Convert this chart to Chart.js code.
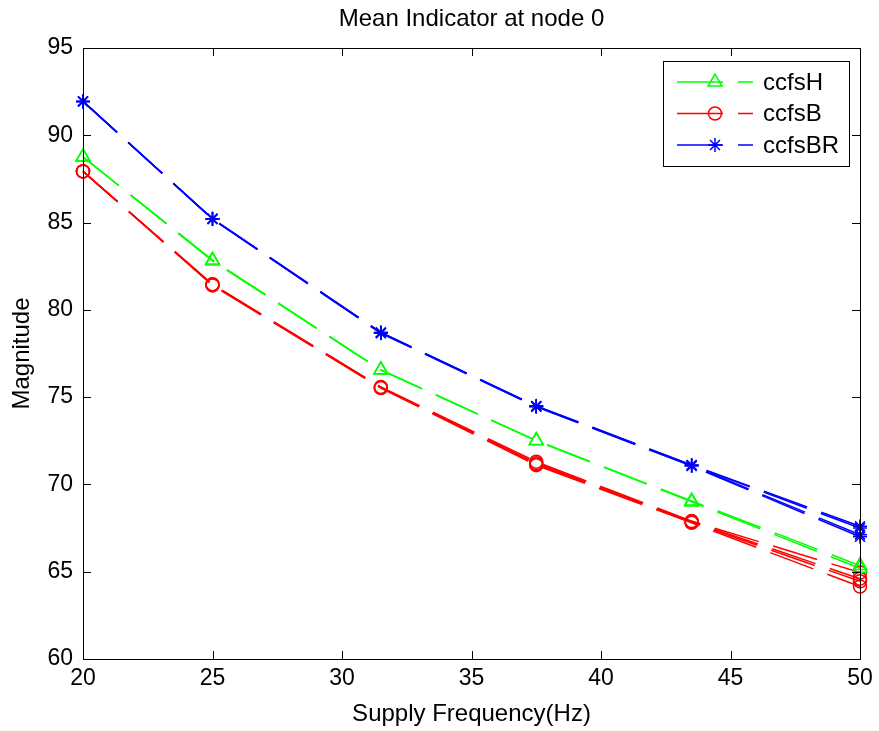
<!DOCTYPE html>
<html>
<head>
<meta charset="utf-8">
<script src="https://cdn.jsdelivr.net/npm/chart.js@4.4.1/dist/chart.umd.min.js"></script>
<style>
  html, body { margin: 0; padding: 0; background: #fff; }
  #wrap { width: 879px; height: 731px; }
</style>
</head>
<body>
<div id="wrap"><canvas id="meanChart" width="879" height="731"></canvas></div>
<script>
const frequencies = [20, 25, 31.5, 37.5, 43.5, 50];
const xTicks = [20, 25, 30, 35, 40, 45, 50];
const yTicks = [60, 65, 70, 75, 80, 85, 90, 95];

// ccfsH runs (green)
const ccfsH1 = [88.76, 82.85, 76.57, 72.52, 69.05, 65.35];
const ccfsH2 = [88.76, 82.8, 76.55, 72.5, 69.0, 65.2];

// ccfsB runs (red)
const ccfsB1 = [87.93, 81.47, 75.58, 71.3, 67.9, 64.95];
const ccfsB2 = [87.93, 81.45, 75.55, 71.22, 67.88, 64.6];
const ccfsB3 = [87.93, 81.42, 75.55, 71.15, 67.83, 64.45];
const ccfsB4 = [87.93, 81.4, 75.52, 71.1, 67.8, 64.15];

// ccfsBR runs (blue)
const ccfsBR1 = [91.94, 85.22, 78.71, 74.5, 71.12, 67.6];
const ccfsBR2 = [91.94, 85.22, 78.7, 74.48, 71.1, 67.5];
const ccfsBR3 = [91.94, 85.2, 78.68, 74.47, 71.08, 67.12];
const ccfsBR4 = [91.94, 85.2, 78.66, 74.45, 71.05, 67.0];

const chartTitle = "Mean Indicator at node 0";
const fontFace = "'Liberation Sans', Arial, Helvetica, sans-serif";
const dashPattern = [46, 15];

function series(label, values, color, shape, radius, inLegend) {
  return {
    label: label,
    data: values.map((v, i) => ({ x: frequencies[i], y: v })),
    borderColor: color,
    borderWidth: 1.5,
    borderDash: dashPattern,
    pointStyle: shape,
    pointRadius: radius,
    pointBorderColor: color,
    pointBackgroundColor: "rgba(0,0,0,0)",
    pointBorderWidth: 1.5,
    tension: 0,
    fill: false,
    clip: false,
    inLegend: inLegend,
  };
}

// box around the plot with inward tick marks on all four sides,
// plus the title centred over the plot area
const axesBox = {
  id: "axesBox",
  afterDatasetsDraw(chart) {
    const { ctx, chartArea: a, scales } = chart;
    const len = 8;
    ctx.save();
    ctx.strokeStyle = "#000";
    ctx.lineWidth = 1;
    ctx.beginPath();
    xTicks.forEach((v) => {
      const px = Math.round(scales.x.getPixelForValue(v)) + 0.5;
      ctx.moveTo(px, a.bottom);
      ctx.lineTo(px, a.bottom - len);
      ctx.moveTo(px, a.top);
      ctx.lineTo(px, a.top + len);
    });
    yTicks.forEach((v) => {
      const py = Math.round(scales.y.getPixelForValue(v)) + 0.5;
      ctx.moveTo(a.left, py);
      ctx.lineTo(a.left + len, py);
      ctx.moveTo(a.right, py);
      ctx.lineTo(a.right - len, py);
    });
    ctx.stroke();
    ctx.strokeRect(Math.round(a.left) + 0.5, Math.round(a.top) + 0.5,
      Math.round(a.right - a.left), Math.round(a.bottom - a.top));

    ctx.fillStyle = "#000";
    ctx.font = "24px " + fontFace;
    ctx.textAlign = "center";
    ctx.textBaseline = "middle";
    ctx.fillText(chartTitle, (a.left + a.right) / 2, 19);
    ctx.restore();
  },
};

// legend box in the upper right corner: dashed sample line with marker, then the label
const boxLegend = {
  id: "boxLegend",
  afterDraw(chart) {
    const { ctx } = chart;
    const items = chart.data.datasets.filter((d) => d.inLegend);
    const x0 = 663, y0 = 61, w = 186, h = 105;
    ctx.save();
    ctx.fillStyle = "#fff";
    ctx.fillRect(x0, y0, w, h);
    ctx.strokeStyle = "#000";
    ctx.lineWidth = 1;
    ctx.strokeRect(x0 + 0.5, y0 + 0.5, w, h);
    items.forEach((d, i) => {
      const y = 82 + i * 31.5;
      ctx.strokeStyle = d.borderColor;
      ctx.lineWidth = d.borderWidth;
      ctx.setLineDash(d.borderDash);
      ctx.beginPath();
      ctx.moveTo(677, y);
      ctx.lineTo(753, y);
      ctx.stroke();
      ctx.setLineDash([]);
      ctx.lineWidth = d.pointBorderWidth;
      ctx.fillStyle = d.pointBackgroundColor;
      Chart.helpers.drawPoint(ctx, {
        pointStyle: d.pointStyle,
        radius: d.pointRadius,
        rotation: 0,
        borderWidth: d.pointBorderWidth,
      }, 715, y);
      ctx.fillStyle = "#000";
      ctx.font = "24px " + fontFace;
      ctx.textBaseline = "middle";
      ctx.textAlign = "left";
      ctx.fillText(d.label, 763, y + 1);
    });
    ctx.restore();
  },
};

const tickFont = { family: fontFace, size: 23 };
const labelFont = { family: fontFace, size: 24 };

new Chart(document.getElementById("meanChart").getContext("2d"), {
  type: "line",
  data: {
    datasets: [
      series("ccfsH", ccfsH1, "#00ff00", "triangle", 8, true),
      series("ccfsH", ccfsH2, "#00ff00", "triangle", 8, false),
      series("ccfsB", ccfsB1, "#ff0000", "circle", 6.5, true),
      series("ccfsB", ccfsB2, "#ff0000", "circle", 6.5, false),
      series("ccfsB", ccfsB3, "#ff0000", "circle", 6.5, false),
      series("ccfsB", ccfsB4, "#ff0000", "circle", 6.5, false),
      series("ccfsBR", ccfsBR1, "#0000ff", "star", 7, true),
      series("ccfsBR", ccfsBR2, "#0000ff", "star", 7, false),
      series("ccfsBR", ccfsBR3, "#0000ff", "star", 7, false),
      series("ccfsBR", ccfsBR4, "#0000ff", "star", 7, false),
    ],
  },
  options: {
    responsive: false,
    animation: false,
    events: [],
    layout: { padding: { top: 48, right: 19, bottom: 0, left: 0 } },
    plugins: {
      legend: { display: false },
      tooltip: { enabled: false },
      title: { display: false },
    },
    scales: {
      x: {
        type: "linear",
        min: 20,
        max: 50,
        afterBuildTicks: (s) => { s.ticks = xTicks.map((v) => ({ value: v })); },
        afterFit: (s) => { s.height = 72; },
        grid: { display: false, drawTicks: false },
        border: { display: false },
        ticks: { color: "#000", font: tickFont, padding: 6, maxRotation: 0, autoSkip: false },
        title: {
          display: true,
          text: "Supply Frequency(Hz)",
          color: "#000",
          font: labelFont,
          padding: { top: 0, bottom: 2 },
        },
      },
      y: {
        type: "linear",
        min: 60,
        max: 95,
        afterBuildTicks: (s) => { s.ticks = yTicks.map((v) => ({ value: v })); },
        afterFit: (s) => { s.width = 83; },
        grid: { display: false, drawTicks: false },
        border: { display: false },
        ticks: { color: "#000", font: tickFont, padding: 10, autoSkip: false },
        title: {
          display: true,
          text: "Magnitude",
          color: "#000",
          font: labelFont,
          padding: { top: 8, bottom: 0 },
        },
      },
    },
  },
  plugins: [axesBox, boxLegend],
});
</script>
</body>
</html>
